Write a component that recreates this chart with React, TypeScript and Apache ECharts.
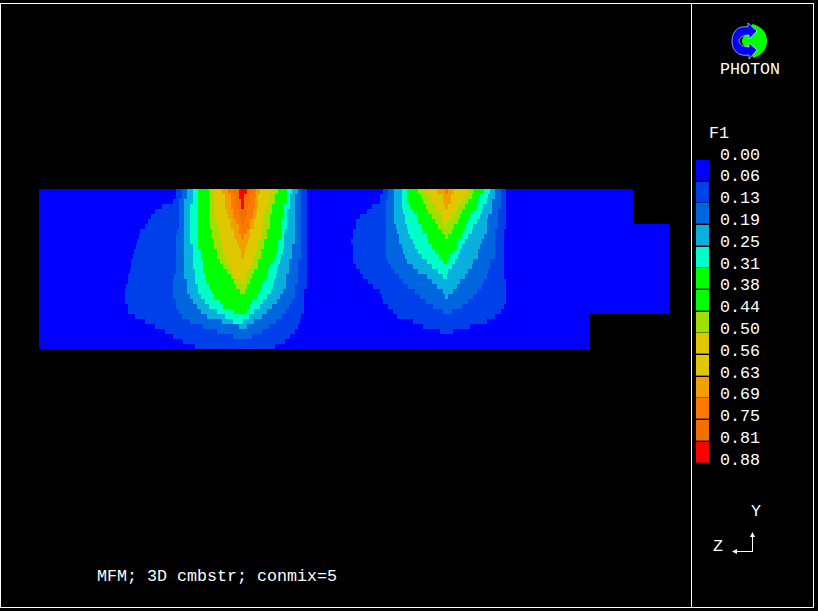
import React, { useEffect, useRef } from "react";
import * as echarts from "echarts";

// Contour level names, as in the colour key
const tickLabels = ["0.00","0.06","0.13","0.19","0.25","0.31","0.38","0.44","0.50","0.56","0.63","0.69","0.75","0.81","0.88"];
const levelColors = ["#0000FF","#0040EB","#0066E0","DITHER","#00FFC8","#00FF00","#00FF00","#A0E000","#E0C800","#E0C800","#F0A000","#FF7800","#F07000","#FF0000"];
const fieldName = "F1";
const caption = "MFM; 3D cmbstr; conmix=5";
const brand = "PHOTON";

// Extent of the domain in each row (row height = 1, x in cells)
const domainEnd = [594,594,594,594,594,594,594,630,630,630,630,630,630,630,630,630,630,630,630,630,630,630,630,630,630,551,551,551,551,551,551,551];

// Contour edges, first plume, per row from the top
const aL1L = [137,137,134,123,116,112,109,106,101,100,98,97,95,94,92,92,91,89,89,87,86,86,86,89,89,96,106,116,126,134,144,156];
const aL1R = [268,268,268,268,268,268,268,268,268,268,268,268,268,268,268,268,268,268,268,268,265,265,265,265,265,262,261,259,256,251,246,236];
const aL2L = [143,143,140,140,140,140,140,140,138,137,137,137,137,137,137,137,137,135,134,134,134,134,137,137,140,143,151,164,178,194];
const aL2R = [262,262,262,262,262,262,262,262,262,262,262,262,262,262,259,259,259,259,259,256,256,256,253,250,247,243,237,230,223,213];
const aL3L = [148,148,145,145,145,145,145,145,145,145,145,145,145,145,145,145,145,145,148,148,148,151,154,158,162,168,183,200];
const aL3R = [259,256,256,256,256,256,256,256,256,256,256,253,253,253,250,250,250,247,247,247,244,241,238,233,228,223,215,208];
const aL4L = [154,154,154,151,151,151,151,151,151,151,151,154,154,154,154,154,156,156,156,159,159,162,166,170,178,186,194];
const aL4R = [253,251,251,251,248,248,248,248,246,245,245,245,244,242,241,239,238,237,235,234,232,228,224,221,215,210,204];
const aL5L = [159,159,159,159,159,159,159,159,159,159,159,159,162,162,164,164,164,167,167,170,173,175,181,184,195];
const aL5R = [248,248,248,245,245,245,242,242,242,242,239,239,238,236,234,231,229,228,224,223,221,218,213,211,208];
const aL7L = [170,170,170,170,170,170,170,171,173,173,175,175,178,178,181,184,188,192,195,197,201];
const aL7R = [239,236,236,233,233,231,231,231,228,228,225,225,222,222,219,219,215,213,211,208,206];
const aL8L = [173,175,175,175,175,175,178,178,180,181,183,183,184,186,188,191,193,195,202];
const aL8R = [235,231,231,228,226,224,224,224,222,222,219,219,217,215,214,212,209,207,206];
const aL10L = [183,186,186,186,188,189,192,192,195,195,198,200,202,202];
const aL10R = [221,219,219,219,218,217,215,215,211,211,209,207,206,205];
const aL11L = [189,192,192,192,194,194,197,200,200,202];
const aL11R = [217,217,216,216,214,214,211,211,208,205];
const aL12L = [194,197,197,197,200,201,202];
const aL12R = [214,211,211,209,208,207,205];
const aL13L = [200,200,202,202];
const aL13R = [208,205,205,205];

// Contour edges, second plume
const bL1L = [344,341,341,333,328,321,317,317,314,314,312,314,314,314,314,317,321,324,329,334,341,343,344,349,354,358,374,384,401];
const bL1R = [467,467,467,467,467,467,467,467,465,465,465,465,465,465,465,465,465,465,467,467,467,467,467,465,462,456,448,431,414];
const bL2L = [349,349,347,347,347,347,347,347,347,347,347,347,347,347,349,352,355,360,364,369,376,381,387,394,404];
const bL2R = [462,462,462,462,459,459,459,459,456,456,456,456,456,456,451,451,449,448,445,443,438,434,429,423,413];
const bL3L = [355,355,355,355,355,355,355,357,358,360,360,363,364,366,368,374,379,388,393,398,404,406];
const bL3R = [456,456,453,453,453,449,448,448,448,445,443,441,439,439,434,433,429,426,421,418,414,409];
const bL4L = [363,363,363,363,364,366,366,368,369,371,374,376,379,383,388,393,399,404];
const bL4R = [451,449,448,444,443,441,438,434,433,429,426,423,421,419,416,413,409,408];
const bL5L = [368,368,368,371,374,378,379,383,384,388,389,393,396,400,404];
const bL5R = [445,441,439,438,434,431,429,426,424,423,419,418,414,411,408];
const bL7L = [379,382,384,387,389,393,396,399,403,406];
const bL7R = [434,433,429,426,423,421,419,415,413,409];
const bL8L = [387,390,393,396,398,403,404,406];
const bL8R = [429,426,423,419,417,413,409,407];
const bL10L = [398,404,404,406];
const bL10R = [415,412,412,409];
const bL11L = [406];
const bL11R = [409];

const contourTables: [number, number[], number[]][] = [
  [1,aL1L,aL1R],[1,bL1L,bL1R],[2,aL2L,aL2R],[2,bL2L,bL2R],[3,aL3L,aL3R],[3,bL3L,bL3R],
  [4,aL4L,aL4R],[4,bL4L,bL4R],[5,aL5L,aL5R],[5,bL5L,bL5R],[7,aL7L,aL7R],[7,bL7L,bL7R],
  [8,aL8L,aL8R],[8,bL8L,bL8R],[10,aL10L,aL10R],[10,bL10L,bL10R],[11,aL11L,aL11R],[11,bL11L,bL11R],
  [12,aL12L,aL12R],[13,aL13L,aL13R],
];

function buildBands() {
  const out: number[][] = domainEnd.map((e, r) => [r, 0, e, 0]);
  contourTables.forEach(([lvl, l, r]) => l.forEach((x, i) => out.push([i, x, r[i], lvl])));
  return out;
}

echarts.graphic.registerShape("logoBlue", echarts.graphic.extendPath(
  "M748 23L757 31L749 39L749 35C743 35 739 38 739 41C739 44 743 47 749 47L749 43L757 50L749 59L749 55C738 57 732 50 732 41C732 32 738 25 748 27Z", {}));
echarts.graphic.registerShape("logoGreen", echarts.graphic.extendPath(
  "M752 24C761 26 767 32 767 41C767 50 761 56 753 58L750 49C745 48 742 44 742 41C742 38 745 34 750 33Z", {}));

function ditherPattern(): any {
  const c = document.createElement("canvas");
  c.width = 2; c.height = 2;
  const g = c.getContext("2d")!;
  g.fillStyle = "#00BCF0"; g.fillRect(0, 0, 2, 2);
  g.fillStyle = "#00A8D8"; g.fillRect(0, 0, 1, 1); g.fillRect(1, 1, 1, 1);
  return { image: c, repeat: "repeat" };
}

const FONT = "Liberation Mono";
const WHITE = "#FFFFFF";

export default function App() {
  const ref = useRef<HTMLDivElement>(null);
  useEffect(() => {
    document.body.style.margin = "0";
    document.body.style.background = "#000";
    const chart = echarts.init(ref.current!, undefined, { renderer: "svg" });
    const dither = ditherPattern();
    const colorOf = (lvl: number) => (levelColors[lvl] === "DITHER" ? dither : levelColors[lvl]);
    const label = (text: string, x: number, y: number, size = 16.67) => ({
      type: "text", x, y, silent: true,
      style: { text, fill: WHITE, font: `${size}px "${FONT}"`, textAlign: "left", textVerticalAlign: "middle" },
    });
    const line = (x1: number, y1: number, x2: number, y2: number) => ({
      type: "line", silent: true, shape: { x1, y1, x2, y2 }, style: { stroke: WHITE, lineWidth: 1 },
    });
    const graphics: any[] = [
      line(0.5, 3.5, 0.5, 607.5), line(0, 3.5, 814, 3.5), line(813.5, 3.5, 813.5, 607.5),
      line(0, 607.5, 814, 607.5), line(691.5, 3.5, 691.5, 607.5),
      { type: "logoGreen", silent: true, style: { fill: "#00FF00" } },
      { type: "logoBlue", silent: true, style: { fill: "#0000FF", stroke: "rgba(255,255,255,0.75)", lineWidth: 0.8 } },
      label(brand, 720, 69),
      label(fieldName, 709, 133),
      label(caption, 97, 576),
      ...levelColors.map((_, i) => ({
        type: "rect", silent: true,
        shape: { x: 696, y: Math.round(160 + i * 21.67), width: 13, height: 20.6 },
        style: { fill: colorOf(i) },
      })),
      ...tickLabels.map((t, i) => label(t, 720, 155 + i * 21.8)),
      label("Y", 751, 511),
      label("Z", 713, 546),
      line(752.5, 534, 752.5, 552), line(734, 551.5, 753, 551.5),
      { type: "polygon", silent: true, shape: { points: [[752.5, 532], [750, 537], [755, 537]] }, style: { fill: WHITE } },
      { type: "polygon", silent: true, shape: { points: [[732, 551.5], [737, 549], [737, 554]] }, style: { fill: WHITE } },
    ];
    chart.setOption({
      animation: false,
      backgroundColor: "#000000",
      grid: { left: 39, top: 189, width: 630, height: 160, containLabel: false },
      xAxis: { type: "value", min: 0, max: 630, show: false },
      yAxis: { type: "value", min: 0, max: 32, inverse: true, show: false },
      graphic: graphics,
      series: [{
        type: "custom",
        silent: true,
        coordinateSystem: "cartesian2d",
        encode: { x: [1, 2], y: 0 },
        clip: false,
        progressive: 0,
        data: buildBands(),
        renderItem: (_: any, api: any) => {
          const a = api.coord([api.value(1), api.value(0)]);
          const b = api.coord([api.value(2), api.value(0) + 1]);
          return {
            type: "rect",
            shape: { x: a[0], y: a[1], width: b[0] - a[0], height: b[1] - a[1] },
            style: { fill: colorOf(api.value(3)) },
          };
        },
      }],
    });
    return () => chart.dispose();
  }, []);
  return <div ref={ref} style={{ width: 818, height: 611 }} />;
}
